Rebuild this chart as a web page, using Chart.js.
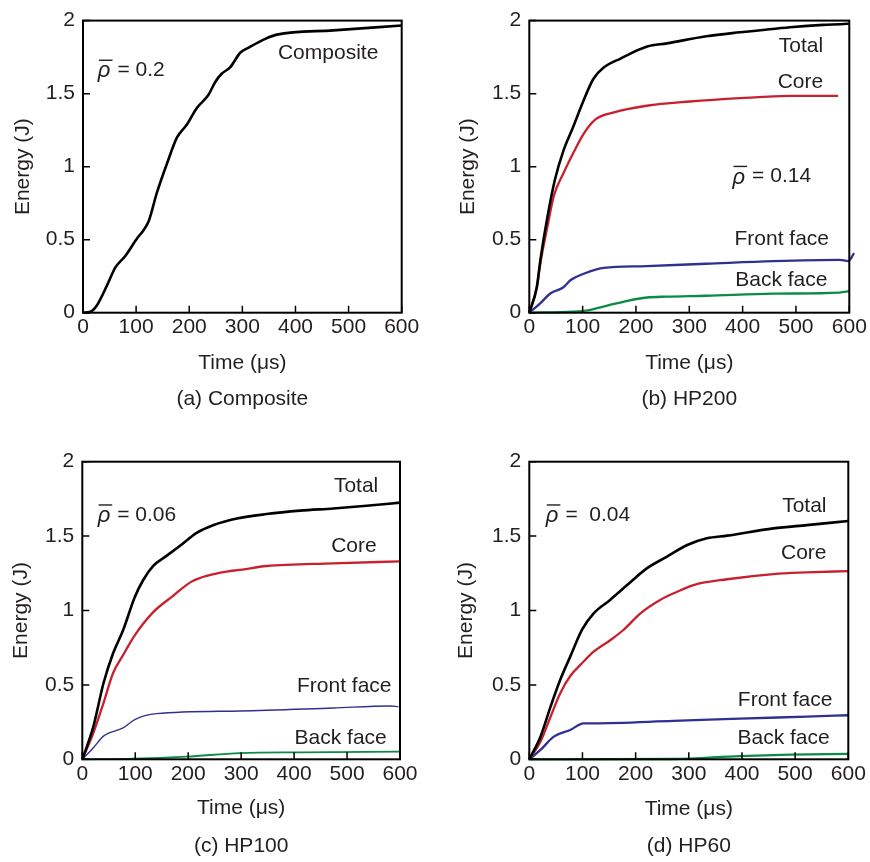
<!DOCTYPE html>
<html>
<head>
<meta charset="utf-8">
<script src="https://cdn.jsdelivr.net/npm/chart.js@4.4.1/dist/chart.umd.min.js"></script>
<style>
  body { margin: 0; background: #fff; width: 870px; height: 862px; position: relative; overflow: hidden; }
  canvas { position: absolute; }
</style>
</head>
<body>
<canvas id="panel-a" width="435" height="431" style="left:0;top:0"></canvas>
<canvas id="panel-b" width="435" height="431" style="left:435px;top:0"></canvas>
<canvas id="panel-c" width="435" height="431" style="left:0;top:431px"></canvas>
<canvas id="panel-d" width="435" height="431" style="left:435px;top:431px"></canvas>
<script>
// axis ticks
const timeTicks = [0, 100, 200, 300, 400, 500, 600];
const energyTicks = [0, 0.5, 1, 1.5, 2];

// (a) Composite
const aTime = [0, 14, 26, 45, 61, 80, 102, 114, 124, 139, 158, 177, 196, 214, 236, 249, 261, 277, 296, 312, 340, 365, 471, 600];
const aComposite = [0, 0.007, 0.05, 0.185, 0.31, 0.39, 0.51, 0.565, 0.63, 0.82, 1.02, 1.2, 1.29, 1.4, 1.49, 1.58, 1.636, 1.68, 1.78, 1.815, 1.87, 1.904, 1.933, 1.966];

// (b) HP200
const bTotalTime = [0, 14, 21, 34, 48, 64, 82, 101, 120, 140, 171, 221, 258, 332, 395, 489, 551, 595, 600, 608];
const bTotal = [0, 0.174, 0.367, 0.655, 0.91, 1.11, 1.27, 1.446, 1.6, 1.68, 1.74, 1.822, 1.844, 1.893, 1.92, 1.955, 1.971, 1.978, 1.982, 2.027];
const bCoreTime = [0, 14, 21, 34, 46, 64, 82, 101, 123, 157, 220, 301, 395, 489, 579];
const bCore = [0, 0.17, 0.344, 0.589, 0.8, 0.955, 1.09, 1.22, 1.32, 1.37, 1.417, 1.446, 1.469, 1.484, 1.484];
const bFrontTime = [0, 20, 40, 64, 77, 102, 126, 140, 220, 332, 457, 582, 598, 609];
const bFront = [0, 0.0625, 0.133, 0.174, 0.222, 0.267, 0.297, 0.307, 0.319, 0.335, 0.353, 0.362, 0.353, 0.408];
const bBackTime = [0, 82, 110, 148, 182, 221, 258, 332, 457, 582, 600];
const bBack = [0, 0.007, 0.016, 0.05, 0.08, 0.104, 0.11, 0.116, 0.13, 0.138, 0.147];

// (c) HP100
const cTotalTime = [0, 9, 21, 40, 58, 77, 99, 115, 134, 159, 184, 216, 247, 292, 348, 411, 474, 537, 600];
const cTotal = [0, 0.089, 0.222, 0.511, 0.711, 0.867, 1.089, 1.205, 1.3, 1.367, 1.433, 1.522, 1.573, 1.618, 1.648, 1.671, 1.686, 1.704, 1.725];
const cCoreTime = [0, 21, 40, 58, 77, 99, 134, 172, 204, 235, 273, 298, 348, 474, 600];
const cCore = [0, 0.178, 0.378, 0.578, 0.7, 0.833, 0.989, 1.1, 1.189, 1.233, 1.262, 1.273, 1.299, 1.317, 1.33];
const cFrontTime = [0, 21, 40, 77, 99, 140, 298, 474, 581, 597];
const cFront = [0, 0.078, 0.156, 0.211, 0.267, 0.307, 0.325, 0.345, 0.358, 0.354];
const cBackTime = [0, 96, 197, 298, 411, 600];
const cBack = [0, 0.004, 0.018, 0.042, 0.047, 0.051];

// (d) HP60
const dTotalTime = [0, 21, 40, 58, 77, 99, 121, 152, 184, 221, 259, 297, 334, 372, 459, 522, 600];
const dTotal = [0, 0.152, 0.354, 0.533, 0.69, 0.869, 0.981, 1.071, 1.171, 1.283, 1.362, 1.44, 1.485, 1.503, 1.552, 1.574, 1.601];
const dCoreTime = [0, 21, 40, 58, 77, 99, 121, 152, 177, 209, 246, 278, 309, 372, 459, 522, 600];
const dCore = [0, 0.118, 0.286, 0.443, 0.56, 0.645, 0.723, 0.8, 0.869, 0.981, 1.071, 1.126, 1.171, 1.21, 1.245, 1.256, 1.265];
const dFrontTime = [0, 21, 46, 77, 102, 120, 271, 396, 522, 600];
const dFront = [0, 0.063, 0.152, 0.197, 0.242, 0.242, 0.258, 0.273, 0.287, 0.296];
const dBackTime = [0, 271, 396, 490, 600];
const dBack = [0, 0.002, 0.022, 0.031, 0.036];

const FONT_FAMILY = '"Liberation Sans", Arial, Helvetica, sans-serif';
const FONT_SIZE = 21;
const TEXT_COLOR = '#231f20';
const COLORS = { total: '#000000', core: '#c8202f', front: '#2e3192', back: '#0b8b45' };

function pairs(times, values) {
    return times.map((t, i) => ({ x: t, y: values[i] }));
}

function series(times, values, color, width) {
    return {
        data: pairs(times, values),
        borderColor: color,
        borderWidth: width,
        pointRadius: 0,
        cubicInterpolationMode: 'monotone',
        clip: false,
        fill: false,
    };
}

// frame, inward ticks, curve labels, rho label and caption
const panelDecor = {
    id: 'panelDecor',
    afterDraw(chart, args, opts) {
        const { ctx, chartArea: a, scales: { x, y } } = chart;
        ctx.save();
        ctx.strokeStyle = '#000';
        ctx.lineWidth = 2;
        ctx.strokeRect(a.left, a.top, a.width, a.height);

        ctx.lineWidth = 1.5;
        ctx.beginPath();
        timeTicks.forEach(v => {
            const px = x.getPixelForValue(v);
            ctx.moveTo(px, a.bottom);
            ctx.lineTo(px, a.bottom - 7);
        });
        energyTicks.forEach(v => {
            const py = y.getPixelForValue(v);
            ctx.moveTo(a.left, py);
            ctx.lineTo(a.left + 7, py);
        });
        ctx.stroke();

        ctx.fillStyle = TEXT_COLOR;
        ctx.textBaseline = 'middle';
        ctx.font = FONT_SIZE + 'px ' + FONT_FAMILY;
        opts.labels.forEach(l => {
            ctx.textAlign = l.align;
            ctx.fillText(l.text, x.getPixelForValue(l.t), y.getPixelForValue(l.e));
        });

        // rho with overline
        const rx = x.getPixelForValue(opts.rho.t);
        const ry = y.getPixelForValue(opts.rho.e);
        ctx.textAlign = 'left';
        ctx.font = 'italic 22px ' + FONT_FAMILY;
        ctx.fillText('ρ', rx, ry + 1);
        const rw = ctx.measureText('ρ').width;
        ctx.lineWidth = 1.4;
        ctx.strokeStyle = TEXT_COLOR;
        ctx.beginPath();
        ctx.moveTo(rx + 1, ry - 10);
        ctx.lineTo(rx + rw + 2, ry - 10);
        ctx.stroke();
        ctx.font = FONT_SIZE + 'px ' + FONT_FAMILY;
        ctx.fillText(opts.rho.text, rx + rw + 7, ry);

        ctx.textAlign = 'center';
        ctx.fillText(opts.caption, (a.left + a.right) / 2, a.bottom + 87);
        ctx.restore();
    }
};

function renderPanel(canvasId, datasets, decor, box) {
    const ctx = document.getElementById(canvasId).getContext('2d');
    return new Chart(ctx, {
        type: 'line',
        data: { datasets: datasets },
        plugins: [panelDecor],
        options: {
            responsive: false,
            animation: false,
            layout: { padding: { left: 0, right: box.right, top: box.top, bottom: box.bottom } },
            plugins: {
                legend: { display: false },
                tooltip: { enabled: false },
                panelDecor: decor,
            },
            scales: {
                x: {
                    type: 'linear',
                    min: 0,
                    max: 600,
                    afterFit: s => { s.height = box.xHeight; },
                    afterBuildTicks: s => { s.ticks = timeTicks.map(v => ({ value: v })); },
                    grid: { display: false, drawTicks: false },
                    border: { display: false },
                    ticks: {
                        color: TEXT_COLOR, padding: 2, maxRotation: 0,
                        font: { family: FONT_FAMILY, size: FONT_SIZE },
                        callback: v => String(v),
                    },
                    title: {
                        display: true,
                        text: 'Time (μs)',
                        color: TEXT_COLOR,
                        padding: { top: 4, bottom: 3 },
                        font: { family: FONT_FAMILY, size: FONT_SIZE },
                    },
                },
                y: {
                    type: 'linear',
                    min: 0,
                    max: 2,
                    afterFit: s => { s.width = box.yWidth; },
                    afterBuildTicks: s => { s.ticks = energyTicks.map(v => ({ value: v })); },
                    grid: { display: false, drawTicks: false },
                    border: { display: false },
                    ticks: {
                        color: TEXT_COLOR, padding: 8,
                        font: { family: FONT_FAMILY, size: FONT_SIZE },
                        callback: v => String(v),
                    },
                    title: {
                        display: true,
                        text: 'Energy (J)',
                        color: TEXT_COLOR,
                        padding: { top: box.yTitlePad, bottom: 4 },
                        font: { family: FONT_FAMILY, size: FONT_SIZE },
                    },
                },
            },
        },
    });
}

renderPanel('panel-a',
    [series(aTime, aComposite, COLORS.total, 2.6)],
    {
        labels: [{ text: 'Composite', t: 367, e: 1.777, align: 'left' }],
        rho: { text: '= 0.2', t: 28, e: 1.66 },
        caption: '(a) Composite',
    },
    { right: 33.3, top: 14, bottom: 52, xHeight: 66.3, yWidth: 83, yTitlePad: 10.4 });

renderPanel('panel-b',
    [
        series(bTotalTime, bTotal, COLORS.total, 2.6),
        series(bCoreTime, bCore, COLORS.core, 2.3),
        series(bFrontTime, bFront, COLORS.front, 2.3),
        series(bBackTime, bBack, COLORS.back, 2.3),
    ],
    {
        labels: [
            { text: 'Total', t: 551, e: 1.826, align: 'right' },
            { text: 'Core', t: 551, e: 1.58, align: 'right' },
            { text: 'Front face', t: 562, e: 0.502, align: 'right' },
            { text: 'Back face', t: 559, e: 0.224, align: 'right' },
        ],
        rho: { text: '= 0.14', t: 381, e: 0.933 },
        caption: '(b) HP200',
    },
    { right: 20.7, top: 14, bottom: 51.7, xHeight: 66.6, yWidth: 94.3, yTitlePad: 20.7 });

renderPanel('panel-c',
    [
        series(cTotalTime, cTotal, COLORS.total, 2.6),
        series(cCoreTime, cCore, COLORS.core, 2.3),
        series(cFrontTime, cFront, COLORS.front, 1.4),
        series(cBackTime, cBack, COLORS.back, 1.8),
    ],
    {
        labels: [
            { text: 'Total', t: 559, e: 1.832, align: 'right' },
            { text: 'Core', t: 556, e: 1.433, align: 'right' },
            { text: 'Front face', t: 584, e: 0.493, align: 'right' },
            { text: 'Back face', t: 575, e: 0.141, align: 'right' },
        ],
        rho: { text: '= 0.06', t: 29, e: 1.642 },
        caption: '(c) HP100',
    },
    { right: 35, top: 30.7, bottom: 37.7, xHeight: 65, yWidth: 82.3, yTitlePad: 9.1 });

renderPanel('panel-d',
    [
        series(dTotalTime, dTotal, COLORS.total, 2.6),
        series(dCoreTime, dCore, COLORS.core, 2.3),
        series(dFrontTime, dFront, COLORS.front, 2.3),
        series(dBackTime, dBack, COLORS.back, 2.3),
    ],
    {
        labels: [
            { text: 'Total', t: 559, e: 1.704, align: 'right' },
            { text: 'Core', t: 559, e: 1.384, align: 'right' },
            { text: 'Front face', t: 570, e: 0.398, align: 'right' },
            { text: 'Back face', t: 565, e: 0.145, align: 'right' },
        ],
        rho: { text: '=  0.04', t: 31, e: 1.642 },
        caption: '(d) HP60',
    },
    { right: 21.7, top: 30.7, bottom: 36.7, xHeight: 66, yWidth: 94.3, yTitlePad: 19.1 });
</script>
</body>
</html>
